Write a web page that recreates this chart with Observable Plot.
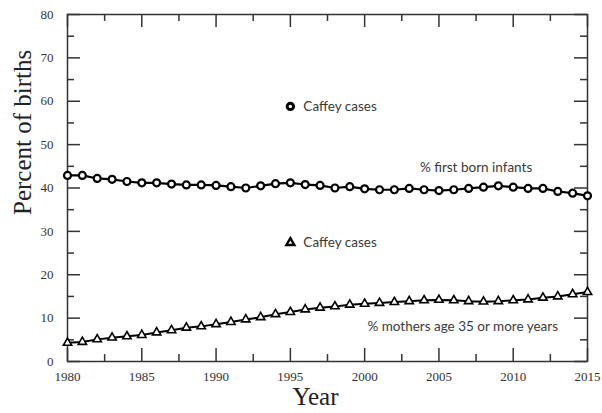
<!DOCTYPE html>
<html><head><meta charset="utf-8">
<script src="https://cdn.jsdelivr.net/npm/d3@7"></script>
<script src="https://cdn.jsdelivr.net/npm/@observablehq/plot@0.6"></script>
<style>body{margin:0;background:#fff}</style>
</head><body><div id="chart"></div>
<script>
const years = [1980,1981,1982,1983,1984,1985,1986,1987,1988,1989,1990,1991,1992,1993,1994,1995,1996,1997,
               1998,1999,2000,2001,2002,2003,2004,2005,2006,2007,2008,2009,2010,2011,2012,2013,2014,2015];
const firstBorn = [42.9,42.9,42.2,42.0,41.5,41.2,41.2,40.9,40.7,40.7,40.6,40.3,40.0,40.5,41.0,41.2,40.8,40.6,
                   40.0,40.3,39.8,39.6,39.6,39.9,39.6,39.4,39.6,39.9,40.2,40.5,40.2,39.9,39.9,39.2,38.8,38.2];
const mothers35 = [4.3,4.5,5.1,5.5,5.8,6.1,6.7,7.2,7.8,8.1,8.6,9.1,9.7,10.2,10.9,11.4,12.0,12.4,
                   12.7,13.1,13.3,13.5,13.7,13.9,14.1,14.2,14.1,13.9,13.8,13.9,14.1,14.3,14.7,15.0,15.5,16.0];

const xTicksMajor = [1980,1985,1990,1995,2000,2005,2010,2015];
const xTicksMinor = [1982.5,1987.5,1992.5,1997.5,2002.5,2007.5,2012.5];
const yTicksMajor = [0,10,20,30,40,50,60,70,80];
const yTicksMinor = [5,15,25,35,45,55,65,75];

const legendLabels = ["Caffey cases","Caffey cases"];
const legendSymbols = ["circle","triangle"];
const legendX = [1995,1995];
const legendY = [58.8,27.4];

const seriesLabels = ["% first born infants","% mothers age 35 or more years"];
const seriesLabelX = [2007.5,2006.6];
const seriesLabelY = [44.7,8.1];

const xTitle = "Year";
const yTitle = "Percent of births";

const fb = years.map((y,i)=>({year:y, value:firstBorn[i]}));
const m35 = years.map((y,i)=>({year:y, value:mothers35[i]}));
const legend = legendLabels.map((t,i)=>({text:t, symbol:legendSymbols[i], x:legendX[i], y:legendY[i]}));
const slabels = seriesLabels.map((t,i)=>({text:t, x:seriesLabelX[i], y:seriesLabelY[i]}));

const xMin = 1980, xMax = 2015, yMin = 0, yMax = 80;
// tick lengths expressed in data units
const xMajLen = 3.0, xMinLen = 1.6, yMajLen = 0.875, yMinLen = 0.47;
const tickColor = "#333";
const sans = "Lato, 'Open Sans', sans-serif";
const serif = "'Liberation Serif', 'DejaVu Serif', serif";

const chart = Plot.plot({
  width: 602, height: 413,
  marginLeft: 67, marginRight: 15, marginTop: 14, marginBottom: 52,
  style: {fontFamily: serif, background: "white"},
  x: {domain: [xMin, xMax]},
  y: {domain: [yMin, yMax]},
  marks: [
    Plot.frame({stroke: tickColor, strokeWidth: 1.5}),
    Plot.ruleX(xTicksMajor, {x: d=>d, y1: yMin, y2: yMin + xMajLen, stroke: tickColor, strokeWidth: 1.5}),
    Plot.ruleX(xTicksMinor, {x: d=>d, y1: yMin, y2: yMin + xMinLen, stroke: tickColor, strokeWidth: 1.5}),
    Plot.ruleX(xTicksMajor, {x: d=>d, y1: yMax, y2: yMax - xMajLen, stroke: tickColor, strokeWidth: 1.5}),
    Plot.ruleX(xTicksMinor, {x: d=>d, y1: yMax, y2: yMax - xMinLen, stroke: tickColor, strokeWidth: 1.5}),
    Plot.ruleY(yTicksMajor, {y: d=>d, x1: xMin, x2: xMin + yMajLen, stroke: tickColor, strokeWidth: 1.5}),
    Plot.ruleY(yTicksMinor, {y: d=>d, x1: xMin, x2: xMin + yMinLen, stroke: tickColor, strokeWidth: 1.5}),
    Plot.ruleY(yTicksMajor, {y: d=>d, x1: xMax, x2: xMax - yMajLen, stroke: tickColor, strokeWidth: 1.5}),
    Plot.ruleY(yTicksMinor, {y: d=>d, x1: xMax, x2: xMax - yMinLen, stroke: tickColor, strokeWidth: 1.5}),
    Plot.axisX({ticks: xTicksMajor, tickSize: 0, tickPadding: 10, tickFormat: d=>String(d), fontSize: 13, fill: "#333", label: null}),
    Plot.axisY({ticks: yTicksMajor, tickSize: 0, tickPadding: 14, tickFormat: d=>String(d), fontSize: 13, fill: "#333", label: null}),
    Plot.text([xTitle], {frameAnchor: "bottom", dx: -12, dy: 35, lineAnchor: "middle", fontSize: 25, fill: "#222", fontFamily: serif}),
    Plot.text([yTitle], {frameAnchor: "left", dx: -45, dy: 27, rotate: -90, lineAnchor: "middle", fontSize: 25, fill: "#222", fontFamily: serif}),
    Plot.line(fb, {x: "year", y: "value", stroke: "black", strokeWidth: 2.2}),
    Plot.dot(fb, {x: "year", y: "value", r: 3.5, stroke: "black", strokeWidth: 2.2, fill: "white"}),
    Plot.line(m35, {x: "year", y: "value", stroke: "black", strokeWidth: 2}),
    Plot.dot(m35, {x: "year", y: "value", symbol: "triangle", r: 3.1, stroke: "black", strokeWidth: 1.6, fill: "white"}),
    Plot.dot(legend, {x: "x", y: "y", symbol: "symbol", r: d=>d.symbol==="circle"?3.8:3.3, stroke: "black", strokeWidth: d=>d.symbol==="circle"?3:2.4, fill: "white"}),
    Plot.text(legend, {x: "x", y: "y", text: "text", dx: 13, textAnchor: "start", fontSize: 13.5, fill: "#3a3a3a", fontFamily: sans}),
    Plot.text(slabels, {x: "x", y: "y", text: "text", textAnchor: "middle", fontSize: 13.5, fill: "#3a3a3a", fontFamily: sans})
  ]
});
document.getElementById("chart").appendChild(chart);
</script>
</body></html>
